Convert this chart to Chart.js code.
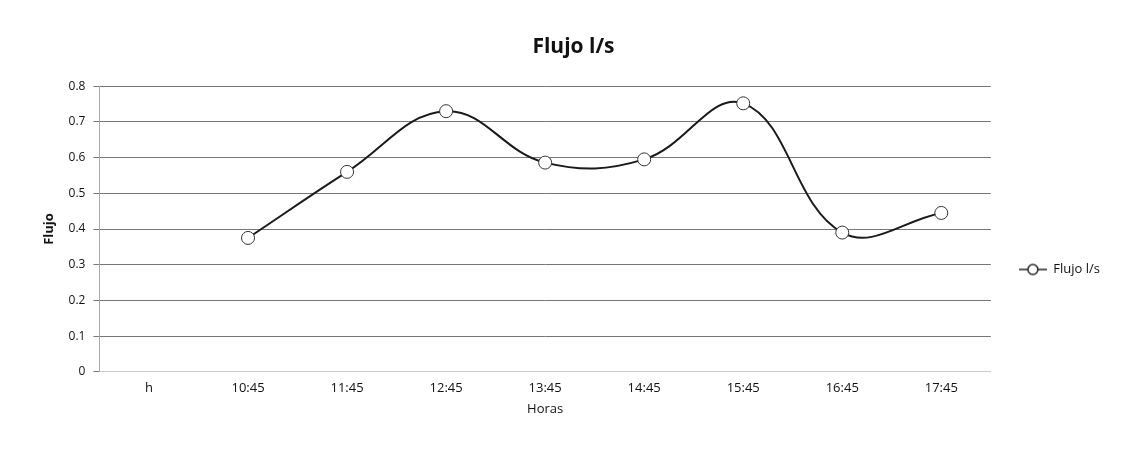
<!DOCTYPE html>
<html>
<head>
<meta charset="utf-8">
<script src="https://cdn.jsdelivr.net/npm/chart.js@4/dist/chart.umd.min.js"></script>
<style>
html,body{margin:0;padding:0;background:#fff;}
#wrap{width:1128px;height:454px;}
</style>
</head>
<body>
<div id="wrap"><canvas id="grafico" width="1128" height="454"></canvas></div>
<script>
const horas = ["h","10:45","11:45","12:45","13:45","14:45","15:45","16:45","17:45"];
const flujo = [null,0.375,0.56,0.73,0.586,0.595,0.752,0.39,0.445];
const ticksY = [0,0.1,0.2,0.3,0.4,0.5,0.6,0.7,0.8];

const fuente = "'Open Sans', 'Noto Sans', sans-serif";

// icono de leyenda: linea con circulo
const icono = document.createElement("canvas");
icono.width = 28; icono.height = 14;
let ic = icono.getContext("2d");
ic.strokeStyle = "#222"; ic.lineWidth = 1.5;
ic.beginPath(); ic.moveTo(0,7); ic.lineTo(28,7); ic.stroke();
ic.fillStyle = "#fff";
ic.beginPath(); ic.arc(14,7,5,0,Math.PI*2); ic.fill(); ic.stroke();

// baja la leyenda un poco, como en el original
const bajarLeyenda = {
id:"bajarLeyenda",
afterLayout(chart){
chart.legend.top += 44;
chart.legend.bottom += 44;
}
};

new Chart(document.getElementById("grafico"), {
type:"line",
data:{
labels:horas,
datasets:[{
label:"Flujo l/s",
data:flujo,
borderColor:"#1a1a1a",
borderWidth:2,
tension:0.4,
pointRadius:6.5,
pointBackgroundColor:"#fff",
pointBorderColor:"#333",
pointBorderWidth:1,
pointStyle:"circle",
spanGaps:false
}]
},
options:{
responsive:false,
animation:false,
layout:{padding:{top:30,left:37,right:18,bottom:33}},
plugins:{
title:{display:true,text:"Flujo l/s",color:"#111",font:{family:fuente,size:21,weight:"bold"},padding:{top:4,bottom:27}},
legend:{position:"right",labels:{usePointStyle:true,pointStyle:icono,pointStyleWidth:28,color:"#111",font:{family:fuente,size:13},padding:28}},
tooltip:{enabled:false}
},
scales:{
x:{
offset:true,
grid:{display:false},
border:{color:"#ccc"},
ticks:{color:"#111",font:{family:fuente,size:13},padding:1},
title:{display:true,text:"Horas",color:"#111",font:{family:fuente,size:13},padding:{top:4}}
},
y:{
min:0,max:0.8,
afterBuildTicks:ax=>{ax.ticks = ticksY.map(v=>({value:v}));},
grid:{color:"#777",tickLength:6},
border:{color:"#aaa"},
ticks:{color:"#111",font:{family:fuente,size:12},padding:8,callback:v=>String(+v.toFixed(1))},
title:{display:true,text:"Flujo",color:"#111",font:{family:fuente,size:13,weight:"bold"}}
}
}
},
plugins:[bajarLeyenda]
});
</script>
</body>
</html>
